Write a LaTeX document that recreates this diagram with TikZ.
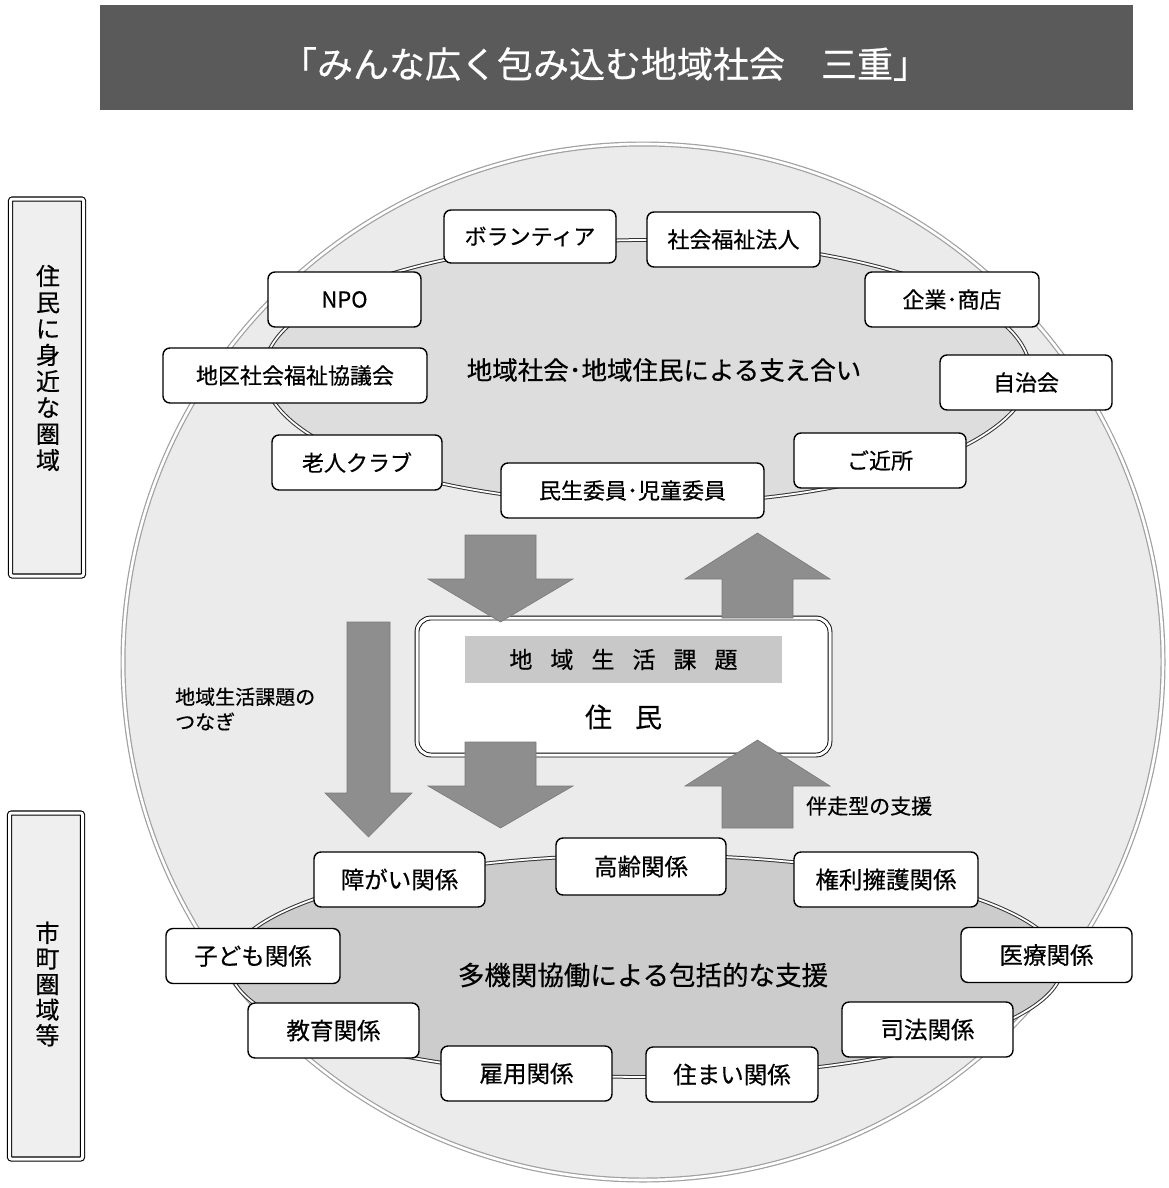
\documentclass[tikz,border=0pt]{standalone}
\usepackage{fontspec}
\setmainfont{Noto Sans CJK JP}[FakeBold=0.5]
\definecolor{titlebg}{HTML}{5A5A5A}
\definecolor{circfill}{HTML}{EBEBEB}
\definecolor{circline}{HTML}{A0A0A0}
\definecolor{upfill}{HTML}{DDDDDD}
\definecolor{lowfill}{HTML}{CCCCCC}
\definecolor{ringline}{HTML}{333333}
\definecolor{arrowfill}{HTML}{8E8E8E}
\definecolor{arrowline}{HTML}{7A7A7A}
\definecolor{bandgray}{HTML}{C8C8C8}
\definecolor{sidefill}{HTML}{EFEFEF}
\begin{document}
\begin{tikzpicture}[x=1pt,y=-1pt,
  upbox/.style={draw=black, line width=1.4pt, fill=white, rounded corners=7pt,
    minimum height=55pt, inner sep=0pt, font=\fontsize{22}{26}\selectfont},
  lowbox/.style={upbox, font=\fontsize{23.5}{27}\selectfont},
  ring/.style={draw=ringline, line width=1pt, double=white, double distance=1.8pt},
  blockarrow/.style={fill=arrowfill, draw=arrowline, line width=0.6pt},
  sidebox/.style={draw=black, line width=1.1pt, double=white, double distance=3pt,
    fill=sidefill, rounded corners=2pt, inner sep=0pt},
  sidetext/.style={align=center, inner sep=0pt},
  captext/.style={inner sep=0pt}]
\useasboundingbox (0,0) rectangle (1168,1188);
\fill[white] (0,0) rectangle (1168,1188);

% title
\node[fill=titlebg, minimum width=1033pt, minimum height=105pt, inner sep=0pt] (titlebar) at (616.5,57.5) {};
\node[text=white, font=\fontsize{36}{40}\selectfont, inner sep=0pt] (title) at (605,64) {「みんな広く包み込む地域社会　三重」};

% big circle
\draw[fill=circfill, draw=circline, line width=1.2pt, double=white, double distance=2.6pt]
  (643,662) ellipse [x radius=520pt, y radius=518pt];

% rings
\draw[ring, fill=upfill] (647,372) ellipse [x radius=383pt, y radius=132pt];
\draw[ring, fill=lowfill] (646,966) ellipse [x radius=416pt, y radius=111pt];

\node[captext, font=\fontsize{25.5}{30}\selectfont] (upcap) at (664,370) {地域社会･地域住民による支え合い};
\node[captext, font=\fontsize{26.5}{30}\selectfont] (lowcap) at (643,975) {多機関協働による包括的な支援};

% upper boxes
\node[upbox, minimum width=172pt, minimum height=53pt] (vol) at (530,236.5) {ボランティア};
\node[upbox, minimum width=173pt] (shafuku) at (733.5,239.5) {社会福祉法人};
\node[upbox, minimum width=153pt] (npo) at (344.5,299.5) {NPO};
\node[upbox, minimum width=174pt] (kigyo) at (952,299.5) {企業･商店};
\node[upbox, minimum width=264pt] (chiku) at (295,375.5) {地区社会福祉協議会};
\node[upbox, minimum width=172pt] (jichi) at (1026,382.5) {自治会};
\node[upbox, minimum width=170pt] (rojin) at (357,462.5) {老人クラブ};
\node[upbox, minimum width=172pt] (gokinjo) at (880,460.5) {ご近所};
\node[upbox, minimum width=263pt] (minsei) at (632.5,490.5) {民生委員･児童委員};

% lower boxes
\node[lowbox, minimum width=171pt] (shogai) at (399.5,879.5) {障がい関係};
\node[lowbox, minimum width=170pt, minimum height=57pt] (korei) at (641,866.5) {高齢関係};
\node[lowbox, minimum width=184pt] (kenri) at (886,879.5) {権利擁護関係};
\node[lowbox, minimum width=174pt] (kodomo) at (253,956) {子ども関係};
\node[lowbox, minimum width=171pt] (iryo) at (1046.5,955) {医療関係};
\node[lowbox, minimum width=171pt] (kyoiku) at (333.5,1030.5) {教育関係};
\node[lowbox, minimum width=171pt] (shiho) at (927.5,1029.5) {司法関係};
\node[lowbox, minimum width=171pt] (koyo) at (526.5,1073.5) {雇用関係};
\node[lowbox, minimum width=172pt] (sumai) at (732,1074.5) {住まい関係};

% centre box
\node[draw=black, line width=0.9pt, double=white, double distance=3pt, rounded corners=14pt,
  fill=white, minimum width=413pt, minimum height=137pt, inner sep=0pt] (resbox) at (623.5,686.5) {};
\node[fill=bandgray, minimum width=317pt, minimum height=47pt, inner sep=0pt,
  font=\fontsize{23}{26}\selectfont] (band) at (623.5,659.5)
  {地\hspace{18pt}域\hspace{18pt}生\hspace{18pt}活\hspace{18pt}課\hspace{18pt}題};
\node[captext, font=\fontsize{27}{30}\selectfont] (jumin) at (623.5,717) {住\hspace{23pt}民};

% block arrows
\draw[blockarrow] (465,535) -- (536,535) -- (536,579) -- (573,579) -- (500.5,622) -- (428,579) -- (465,579) -- cycle;
\draw[blockarrow] (757.5,533) -- (830,579) -- (793,579) -- (793,618) -- (722,618) -- (722,579) -- (685,579) -- cycle;
\draw[blockarrow] (465,742) -- (536,742) -- (536,786) -- (573,786) -- (500.5,828) -- (428,786) -- (465,786) -- cycle;
\draw[blockarrow] (757.5,740) -- (830,786) -- (793,786) -- (793,828) -- (722,828) -- (722,786) -- (685,786) -- cycle;
\draw[blockarrow] (347,622) -- (390,622) -- (390,793) -- (412,793) -- (368.5,837) -- (325,793) -- (347,793) -- cycle;

% labels
\node[captext, align=left, anchor=west, font=\fontsize{20}{25}\selectfont] (tsunagi) at (175,709) {地域生活課題の\\つなぎ};
\node[captext, anchor=west, font=\fontsize{21}{24}\selectfont] (banso) at (806,806) {伴走型の支援};

% side boxes
\node[sidebox, minimum width=73pt, minimum height=377pt] (near) at (47,387.5) {};
\node[sidetext, font=\fontsize{24}{26.3}\selectfont] (neartext) at (48,368) {住\\民\\に\\身\\近\\な\\圏\\域};
\node[sidebox, minimum width=73pt, minimum height=346pt] (city) at (46,986) {};
\node[sidetext, font=\fontsize{24}{25.6}\selectfont] (citytext) at (47.5,984) {市\\町\\圏\\域\\等};
\end{tikzpicture}
\end{document}
